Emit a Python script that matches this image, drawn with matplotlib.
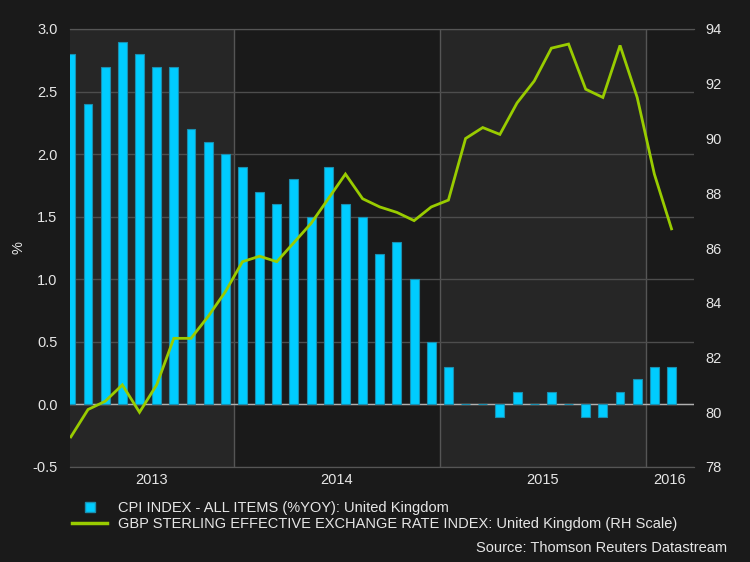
import numpy as np
import pandas as pd
import matplotlib
matplotlib.use("Agg")
import matplotlib.pyplot as plt
from matplotlib.lines import Line2D

# monthly data, Mar 2013 - Feb 2016
months = pd.period_range("2013-03", periods=36, freq="M")
cpi = [2.8, 2.4, 2.7, 2.9, 2.8, 2.7, 2.7, 2.2, 2.1, 2.0,
       1.9, 1.7, 1.6, 1.8, 1.5, 1.9, 1.6, 1.5, 1.2, 1.3, 1.0, 0.5,
       0.3, 0.0, 0.0, -0.1, 0.1, 0.0, 0.1, 0.0, -0.1, -0.1, 0.1, 0.2,
       0.3, 0.3]
gbp = [79.1, 80.1, 80.4, 81.0, 80.0, 81.0, 82.7, 82.7, 83.5, 84.4,
       85.5, 85.7, 85.5, 86.2, 86.9, 87.8, 88.7, 87.8, 87.5, 87.3, 87.0, 87.5,
       87.75, 90.0, 90.4, 90.15, 91.3, 92.1, 93.3, 93.45, 91.8, 91.5, 93.4, 91.5,
       88.7, 86.7]
years = [2013, 2014, 2015, 2016]
left_ticks = [-0.5, 0.0, 0.5, 1.0, 1.5, 2.0, 2.5, 3.0]
right_ticks = [78, 80, 82, 84, 86, 88, 90, 92, 94]

cpi_label = "CPI INDEX - ALL ITEMS (%YOY): United Kingdom"
gbp_label = "GBP STERLING EFFECTIVE EXCHANGE RATE INDEX: United Kingdom (RH Scale)"
source = "Source: Thomson Reuters Datastream"

BG = "#1a1a1a"
BAND = "#262626"
TXT = "#e6e6e6"
CYAN = "#00ccff"
GREEN = "#99cc00"

plt.rcParams["font.family"] = ["Liberation Sans", "DejaVu Sans"]
plt.rcParams["font.size"] = 10.5

# x in months since Jan 2013, bars at mid-month
x = np.array([(m.year - 2013) * 12 + m.month - 1 + 0.5 for m in months])
x0, x1 = 2.45, 38.81

fig = plt.figure(figsize=(7.5, 5.62), dpi=100, facecolor=BG)
ax = fig.add_axes([70 / 750, 1 - 467 / 562, 624 / 750, 438 / 562])
ax.set_facecolor(BG)
ax2 = ax.twinx()

# alternating year bands
for i, yr in enumerate(years):
    a = (yr - 2013) * 12
    if i % 2 == 0:
        ax.axvspan(max(a, x0), min(a + 12, x1), color=BAND, zorder=0, lw=0)
    if a > x0:
        ax.axvline(a, color="#555555", lw=1, zorder=0.5)

ax.bar(x, cpi, width=0.52, color=CYAN, edgecolor="#1a8fb0", linewidth=0.8, zorder=2)
ax.axhline(0, color="#b0b0b0", lw=1, zorder=1.5)

ax2.plot(x, gbp, color=GREEN, lw=2.0, solid_joinstyle="miter", zorder=3)

ax.set_xlim(x0, x1)
ax.set_ylim(-0.5, 3.0)
ax2.set_ylim(78, 94)
ax.set_yticks(left_ticks)
ax.set_yticklabels([f"{v:.1f}" for v in left_ticks])
ax2.set_yticks(right_ticks)
ax.grid(axis="y", color="#4d4d4d", lw=1, zorder=0.6)
ax.set_axisbelow(True)

centers = [(max((y - 2013) * 12, x0) + min((y - 2012) * 12, x1)) / 2 for y in years]
ax.set_xticks(centers)
ax.set_xticklabels([str(y) for y in years])

ax.tick_params(axis="x", length=0, pad=4, colors=TXT)
ax.tick_params(axis="y", length=0, pad=9, colors=TXT)
ax2.tick_params(axis="y", length=0, pad=8, colors=TXT)

for a in (ax, ax2):
    for s in ("left", "right"):
        a.spines[s].set_visible(False)
    for s in ("top", "bottom"):
        a.spines[s].set_color("#555555")

ax.set_ylabel("%", color=TXT)
ax.yaxis.set_label_coords(-0.072, 0.5)

handles = [
    Line2D([], [], marker="s", ls="none", markersize=7.5, markerfacecolor=CYAN,
           markeredgecolor="#1a8fb0", label=cpi_label),
    Line2D([], [], color=GREEN, lw=2.5, label=gbp_label),
]
fig.legend(handles=handles, loc="upper left", bbox_to_anchor=(72 / 750, 1 - 501 / 562),
           frameon=False, labelcolor=TXT, handlelength=2.4, handletextpad=0.75,
           labelspacing=0.15, borderpad=0, borderaxespad=0)

fig.text(727 / 750, 1 - 548 / 562, source, color=TXT, ha="right", va="center")

fig.savefig("out.png", dpi=100, facecolor=BG)
